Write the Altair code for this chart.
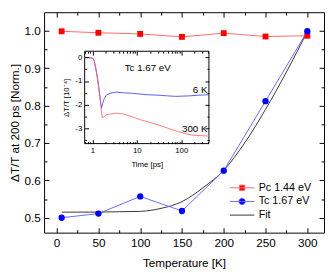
import altair as alt
import pandas as pd

# ---------------- data ----------------
temps = [6, 50, 100, 150, 200, 250, 300]
pc_vals = [0.999, 0.995, 0.992, 0.984, 0.994, 0.985, 0.987]
tc_vals = [0.500, 0.511, 0.557, 0.518, 0.626, 0.812, 0.999]

fit_temps = [6, 25, 50, 75, 100, 125, 150, 175, 200, 225, 250, 275, 300]
fit_vals = [0.515, 0.515, 0.515, 0.516, 0.517, 0.525, 0.543, 0.580, 0.627, 0.700, 0.790, 0.890, 0.998]

series_names = ["Pc 1.44 eV", "Tc 1.67 eV", "Fit"]

x_ticks = [0, 50, 100, 150, 200, 250, 300]
x_minor = [25, 75, 125, 175, 225, 275]
y_ticks = [0.5, 0.6, 0.7, 0.8, 0.9, 1.0]
y_minor = [0.55, 0.65, 0.75, 0.85, 0.95]

# inset: transients (time in ps, dT/T in 1e-4)
t_6k = [0.67, 0.8, 0.9, 1.0, 1.05, 1.1, 1.2, 1.33, 1.45, 1.55, 1.6, 1.7, 1.85, 2.05, 2.5, 3.4,
        5, 8, 13, 17, 30, 50, 75, 150, 250, 420]
v_6k = [0.0, -0.01, -0.02, -0.04, -0.06, -0.15, -0.5, -1.0, -1.55, -2.0, -2.15, -1.95, -1.75,
        -1.6, -1.52, -1.47, -1.5, -1.52, -1.56, -1.58, -1.6, -1.63, -1.65, -1.63, -1.6, -1.58]
t_300k = [0.67, 0.8, 0.9, 1.0, 1.05, 1.1, 1.2, 1.33, 1.45, 1.55, 1.6, 1.67, 1.8, 2.05, 2.5, 3.4,
          4.5, 5.7, 7.5, 9.4, 13, 17, 32, 50, 75, 120, 175, 250, 420]
v_300k = [0.0, -0.01, -0.02, -0.04, -0.06, -0.15, -0.5, -1.0, -1.55, -2.0, -2.3, -2.57, -2.52,
          -2.43, -2.4, -2.36, -2.38, -2.43, -2.5, -2.57, -2.66, -2.72, -2.87, -3.0, -3.11, -3.22,
          -3.29, -3.31, -3.33]

inset_x_ticks = [1, 10, 100]
inset_x_minor = [0.7, 0.8, 0.9, 2, 3, 4, 5, 6, 7, 8, 9, 20, 30, 40, 50, 60, 70, 80, 90, 200, 300, 400]
inset_y_ticks = [0, -1, -2, -3]
inset_y_minor = [-0.5, -1.5, -2.5, -3.5]

inset_title = ["Tc 1.67 eV"]
temp_labels = ["6 K", "300 K"]

# ---------------- layout / style ----------------
FONT = "Liberation Sans"
W, H = 287, 226
X_DOMAIN = [-15, 320]
Y_DOMAIN = [0.46, 1.05]
INSET_T = [0.67, 420]
INSET_V = [-3.65, 0.26]
IL, IR, IT, IB = 41.6, 169.0, 40.0, 134.7   # inset box inside the plot (px)
INSET_TITLE_AT = (17.6, -0.44)
TEMP_LABEL_T = 390
TEMP_LABEL_V = [-1.39, -3.05]

fill_colors = ["#ff0000", "#0000ff", "#000000"]
line_colors = ["#ff6a6a", "#6a6aff", "#333333"]
legend_paths = [
    "M-1,0H1M-0.22,-0.22H0.22V0.22H-0.22Z",
    "M-1,0H1M0.26,0A0.26,0.26,0,1,1,-0.26,0A0.26,0.26,0,1,1,0.26,0Z",
    "M-1,0H1",
]


def main_axis(orient, values, size, **kw):
    return alt.Axis(orient=orient, values=values, tickSize=size, offset=-size,
                    zindex=1, **kw)


def inset_axis(orient, values, size, **kw):
    if orient == "bottom":
        off = IB - size - H
    elif orient == "top":
        off = -(IT + size)
    elif orient == "left":
        off = -(IL + size)
    else:
        off = IR - size - W
    return alt.Axis(orient=orient, values=values, tickSize=size, offset=off,
                    zindex=1, **kw)


main_x = alt.Scale(domain=X_DOMAIN, nice=False, zero=False)
main_y = alt.Scale(domain=Y_DOMAIN, nice=False, zero=False)

fit_df = pd.DataFrame({"T": fit_temps, "v": fit_vals})
pc_df = pd.DataFrame({"T": temps, "v": pc_vals})
tc_df = pd.DataFrame({"T": temps, "v": tc_vals})

fit_line = alt.Chart(fit_df).mark_line(color=line_colors[2], strokeWidth=1,
                                       interpolate="monotone").encode(
    x=alt.X("T:Q", scale=main_x,
            axis=main_axis("bottom", x_ticks, 5, labels=True, format="d",
                           title="Temperature [K]", labelFontSize=12, labelPadding=5.5,
                           titleFontSize=12, titlePadding=9)),
    y=alt.Y("v:Q", scale=main_y,
            axis=main_axis("left", y_ticks, 5, labels=True, format=".1f",
                           title="ΔT/T at 200 ps [Norm.]", labelFontSize=12,
                           labelPadding=4, titleFontSize=12, titlePadding=3)),
)

pc_line = alt.Chart(pc_df).mark_line(color=line_colors[0], strokeWidth=1).encode(
    x=alt.X("T:Q", scale=main_x, axis=main_axis("bottom", x_minor, 3, labels=False, title=None)),
    y=alt.Y("v:Q", scale=main_y, axis=main_axis("left", y_minor, 3, labels=False, title=None)),
)

tc_line = alt.Chart(tc_df).mark_line(color=line_colors[1], strokeWidth=1).encode(
    x=alt.X("T:Q", scale=main_x, axis=main_axis("top", x_ticks, 5, labels=False, title=None)),
    y=alt.Y("v:Q", scale=main_y, axis=main_axis("right", y_ticks, 5, labels=False, title=None)),
)

pc_pts = alt.Chart(pc_df).mark_point(shape="square", filled=True, color=fill_colors[0],
                                     size=36, opacity=1).encode(
    x=alt.X("T:Q", scale=main_x, axis=main_axis("top", x_minor, 3, labels=False, title=None)),
    y=alt.Y("v:Q", scale=main_y, axis=main_axis("right", y_minor, 3, labels=False, title=None)),
)

tc_pts = alt.Chart(tc_df).mark_point(shape="circle", filled=True, color=fill_colors[1],
                                     size=42, opacity=1).encode(
    x=alt.X("T:Q", scale=main_x, axis=None),
    y=alt.Y("v:Q", scale=main_y, axis=None),
)

leg_def = alt.Legend(title=None, orient="none", legendX=190, legendY=173, symbolSize=625,
                     clipHeight=14, rowPadding=0, labelFont=FONT, labelFontSize=11,
                     labelColor="black", labelOffset=4, symbolStrokeWidth=1, padding=0)
leg_df = pd.DataFrame({"series": series_names})
legend_layer = alt.Chart(leg_df).mark_point(filled=True, opacity=1, strokeWidth=1).encode(
    fill=alt.Fill("series:N", scale=alt.Scale(domain=series_names, range=fill_colors), legend=leg_def),
    stroke=alt.Stroke("series:N", scale=alt.Scale(domain=series_names, range=line_colors), legend=leg_def),
    shape=alt.Shape("series:N", scale=alt.Scale(domain=series_names, range=legend_paths), legend=leg_def),
).transform_filter("false")

main = alt.layer(fit_line, pc_line, tc_line, pc_pts, tc_pts, legend_layer).resolve_axis(
    x="independent", y="independent")

# ---------------- inset ----------------
inset_x = alt.Scale(type="log", domain=INSET_T, range=[IL, IR], nice=False)
inset_y = alt.Scale(domain=INSET_V, range=[IB, IT], nice=False, zero=False)

frame_df = pd.DataFrame({"t0": [INSET_T[0]], "t1": [INSET_T[1]],
                         "v0": [INSET_V[0]], "v1": [INSET_V[1]]})
frame = alt.Chart(frame_df).mark_rect(fill="white", stroke="black", strokeWidth=1).encode(
    x=alt.X("t0:Q", scale=inset_x,
            axis=inset_axis("bottom", inset_x_ticks, 4, labels=True, labelExpr="'' + datum.value",
                            title="Time [ps]", labelFontSize=8, labelPadding=3,
                            titleFontSize=8, titlePadding=6)),
    x2="t1:Q",
    y=alt.Y("v0:Q", scale=inset_y,
            axis=inset_axis("left", inset_y_ticks, 4, labels=True, labelExpr="'' + datum.value",
                            title="ΔT/T [10⁻⁴]", labelFontSize=8, labelPadding=3,
                            titleFontSize=8, titlePadding=4)),
    y2="v1:Q",
)

df6 = pd.DataFrame({"t": t_6k, "v": v_6k})
df300 = pd.DataFrame({"t": t_300k, "v": v_300k})

blue_tr = alt.Chart(df6).mark_line(color="#5a5aff", strokeWidth=1).encode(
    x=alt.X("t:Q", scale=inset_x, axis=inset_axis("bottom", inset_x_minor, 2, labels=False, title=None)),
    y=alt.Y("v:Q", scale=inset_y, axis=inset_axis("left", inset_y_minor, 2, labels=False, title=None)),
)
red_tr = alt.Chart(df300).mark_line(color="#ff5a5a", strokeWidth=1, opacity=0.8).encode(
    x=alt.X("t:Q", scale=inset_x, axis=inset_axis("top", inset_x_ticks, 4, labels=False, title=None)),
    y=alt.Y("v:Q", scale=inset_y, axis=inset_axis("right", inset_y_ticks, 4, labels=False, title=None)),
)

title_df = pd.DataFrame({"t": [INSET_TITLE_AT[0]], "v": [INSET_TITLE_AT[1]], "label": inset_title})
title_txt = alt.Chart(title_df).mark_text(align="center", baseline="middle", font=FONT,
                                          fontSize=10, color="black").encode(
    x=alt.X("t:Q", scale=inset_x, axis=inset_axis("top", inset_x_minor, 2, labels=False, title=None)),
    y=alt.Y("v:Q", scale=inset_y, axis=inset_axis("right", inset_y_minor, 2, labels=False, title=None)),
    text="label:N",
)

tl_df = pd.DataFrame({"t": [TEMP_LABEL_T, TEMP_LABEL_T], "v": TEMP_LABEL_V, "label": temp_labels})
temp_txt = alt.Chart(tl_df).mark_text(align="right", baseline="middle", font=FONT,
                                      fontSize=10, color="black").encode(
    x=alt.X("t:Q", scale=inset_x, axis=None),
    y=alt.Y("v:Q", scale=inset_y, axis=None),
    text="label:N",
)

inset = alt.layer(frame, blue_tr, red_tr, title_txt, temp_txt).resolve_axis(
    x="independent", y="independent")

chart = alt.layer(main, inset).resolve_scale(
    x="independent", y="independent"
).properties(
    width=W, height=H, padding={"left": 0, "top": 0, "right": 0, "bottom": 0}
).configure_view(
    stroke="black", strokeWidth=1
).configure_axis(
    labelFont=FONT, titleFont=FONT, labelColor="black", titleColor="black",
    tickColor="black", tickWidth=1, titleFontWeight="normal", grid=False, domain=False,
    labelFlush=False
)

chart.save("out.html", embed_options={"renderer": "svg", "actions": False})
